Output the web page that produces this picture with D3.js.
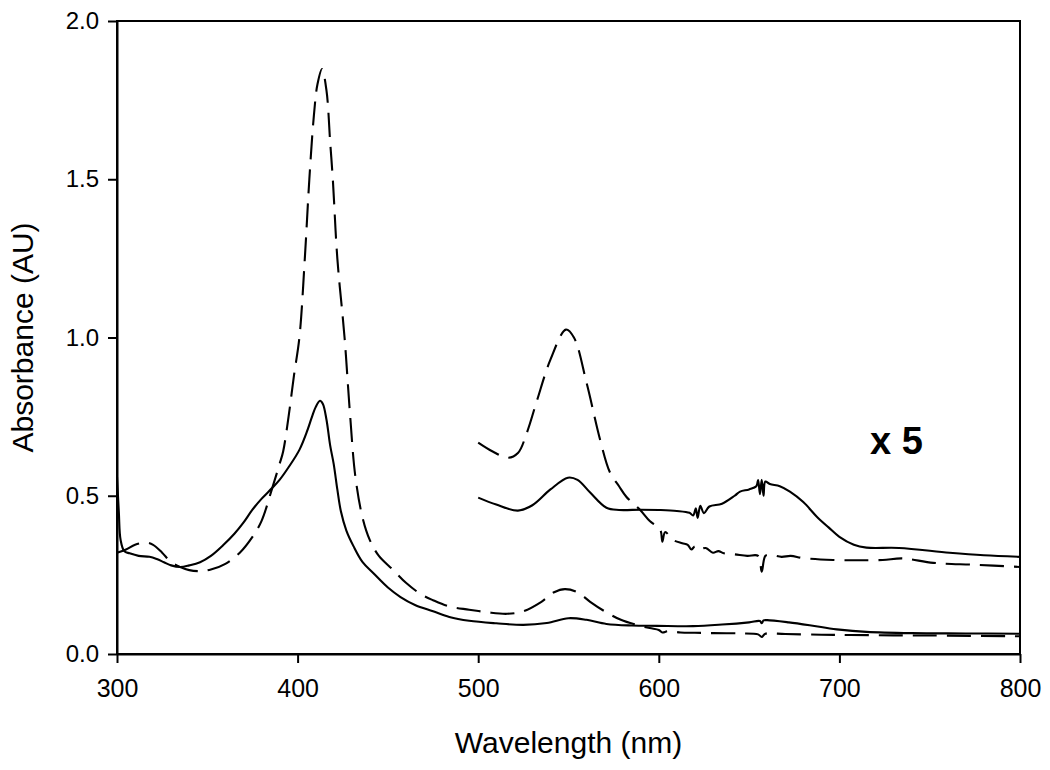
<!DOCTYPE html>
<html>
<head>
<meta charset="utf-8">
<script src="https://cdn.jsdelivr.net/npm/d3@7"></script>
<style>
  body { margin: 0; background: #fff; }
  text { font-family: "Liberation Sans", Arial, sans-serif; fill: #000; }
</style>
</head>
<body>
<svg width="1050" height="770"></svg>
<script>
// spectra: [wavelength nm, absorbance AU]
var solidFull = [
  [300, 0.56], [301, 0.45], [302, 0.36], [304, 0.325], [307, 0.318], [312, 0.31],
  [318, 0.307], [322, 0.30], [326, 0.29], [330, 0.28], [335, 0.275], [340, 0.28],
  [346, 0.29], [352, 0.31], [359, 0.345], [365, 0.38], [370, 0.415], [375, 0.456],
  [380, 0.49], [386, 0.525], [390, 0.55], [395, 0.59], [401, 0.645], [405, 0.70],
  [408, 0.75], [410, 0.78], [412.4, 0.80], [414, 0.79], [416, 0.74], [418, 0.66],
  [420, 0.60], [422, 0.52], [424, 0.45], [427, 0.39], [431, 0.34], [436, 0.29],
  [442, 0.255], [450, 0.21], [457, 0.18], [465, 0.155], [475, 0.135], [484, 0.117],
  [495, 0.105], [510, 0.097], [525, 0.092], [538, 0.098], [550, 0.113], [560, 0.108],
  [571, 0.095], [585, 0.09], [599, 0.089], [619, 0.088], [635, 0.093], [650, 0.10],
  [656, 0.104], [657, 0.097], [658, 0.106], [660, 0.107], [672, 0.10], [688, 0.087],
  [700, 0.077], [715, 0.07], [740, 0.066], [770, 0.065], [800, 0.064]
];

var dashedFull = [
  [300, 0.32], [305, 0.33], [310, 0.345], [316, 0.352], [320, 0.345], [325, 0.32],
  [330, 0.29], [335, 0.275], [340, 0.265], [346, 0.262], [352, 0.267], [360, 0.285],
  [368, 0.32], [375, 0.37], [380, 0.42], [386, 0.525], [390, 0.60], [392, 0.64],
  [395, 0.75], [398, 0.88], [401, 1.0], [404, 1.25], [406.5, 1.5], [409, 1.70],
  [411, 1.80], [413.5, 1.848], [416, 1.78], [418, 1.62], [419.5, 1.5], [422, 1.25],
  [426, 1.0], [429, 0.76], [432, 0.56], [436, 0.43], [440, 0.36], [445, 0.31],
  [453, 0.265], [460, 0.225], [468, 0.19], [475, 0.17], [484, 0.15], [495, 0.14],
  [505, 0.132], [516, 0.127], [525, 0.135], [535, 0.165], [542, 0.195], [548, 0.205],
  [555, 0.195], [562, 0.165], [570, 0.135], [579, 0.108], [587, 0.093], [595, 0.082],
  [600, 0.076], [602, 0.068], [605, 0.072], [612, 0.068], [620, 0.067], [630, 0.066],
  [645, 0.065], [655, 0.062], [657, 0.054], [659, 0.064], [670, 0.063], [690, 0.061],
  [706, 0.06], [730, 0.059], [760, 0.058], [800, 0.056]
];

// x 5 magnified visible region
var solidX5 = [
  [500, 0.494], [510, 0.472], [522, 0.453], [530, 0.47], [540, 0.52], [549.7, 0.557],
  [555, 0.55], [562, 0.51], [571, 0.462], [578, 0.455], [590, 0.456], [600, 0.455],
  [610, 0.452], [617, 0.446], [619, 0.438], [620.5, 0.46], [621.5, 0.43], [623, 0.468],
  [625, 0.445], [628, 0.466], [635, 0.475], [642, 0.50], [645, 0.513], [650, 0.52],
  [654, 0.53], [655, 0.55], [656, 0.505], [657, 0.55], [658, 0.50], [659, 0.545],
  [661.5, 0.537], [667, 0.53], [672.6, 0.513], [680, 0.48], [687.5, 0.434], [694, 0.40],
  [700, 0.37], [708, 0.345], [715, 0.336], [733, 0.335], [761, 0.32], [780, 0.312],
  [800, 0.307]
];

var dashedX5 = [
  [500, 0.668], [508, 0.64], [516.5, 0.62], [522, 0.635], [527, 0.70], [532.5, 0.80],
  [540, 0.93], [548.6, 1.025], [553, 1.0], [560, 0.857], [567.5, 0.677], [573, 0.573],
  [578, 0.53], [582, 0.497], [589.7, 0.455], [595, 0.42], [599, 0.403], [601, 0.39],
  [602, 0.355], [603.5, 0.385], [608, 0.36], [613, 0.35], [616, 0.345], [618, 0.33],
  [620, 0.34], [622, 0.33], [626, 0.335], [630, 0.32], [633, 0.325], [636, 0.318],
  [642, 0.315], [649, 0.31], [655, 0.31], [657, 0.26], [659, 0.31], [662, 0.313],
  [668, 0.307], [673, 0.31], [680, 0.303], [696.5, 0.297], [710, 0.296], [724, 0.297],
  [735, 0.302], [752, 0.288], [775, 0.282], [800, 0.275]
];

var xTicks = [300, 400, 500, 600, 700, 800];
var yTicks = [0.0, 0.5, 1.0, 1.5, 2.0];

var svg = d3.select("svg"),
    width = +svg.attr("width"),
    height = +svg.attr("height"),
    margin = {top: 21, right: 30, bottom: 116, left: 117};

var x = d3.scaleLinear()
    .domain([300, 800])
    .range([margin.left, width - margin.right]);

var y = d3.scaleLinear()
    .domain([0, 2])
    .range([height - margin.bottom, margin.top]);

var line = d3.line()
    .x(function(d) { return x(d[0]); })
    .y(function(d) { return y(d[1]); })
    .curve(d3.curveCatmullRom.alpha(0.5));

// frame
svg.append("rect")
    .attr("x", x(300))
    .attr("y", y(2))
    .attr("width", x(800) - x(300))
    .attr("height", y(0) - y(2))
    .attr("fill", "none")
    .attr("stroke", "#000")
    .attr("stroke-width", 2);

var xAxis = svg.append("g")
    .attr("transform", "translate(0," + y(0) + ")")
    .call(d3.axisBottom(x).tickValues(xTicks).tickSize(9).tickSizeOuter(0).tickPadding(16));

var yAxis = svg.append("g")
    .attr("transform", "translate(" + x(300) + ",0)")
    .call(d3.axisLeft(y).tickValues(yTicks).tickSize(9).tickSizeOuter(0).tickPadding(9)
        .tickFormat(d3.format(".1f")));

[xAxis, yAxis].forEach(function(g) {
    g.select(".domain").attr("stroke-width", 2);
    g.selectAll(".tick line").attr("stroke-width", 2);
    g.selectAll("text").attr("font-family", "Liberation Sans, Arial, sans-serif");
});
xAxis.selectAll("text").attr("font-size", 25);
yAxis.selectAll("text").attr("font-size", 24);

var series = [
    {data: solidFull, dash: null},
    {data: dashedFull, dash: "24,10"},
    {data: solidX5, dash: null},
    {data: dashedX5, dash: "24,10"}
];

svg.append("g")
    .selectAll("path")
    .data(series)
    .enter().append("path")
        .attr("d", function(d) { return line(d.data); })
        .attr("fill", "none")
        .attr("stroke", "#000")
        .attr("stroke-width", 2.1)
        .attr("stroke-linejoin", "round")
        .attr("stroke-dasharray", function(d) { return d.dash; });

svg.append("text")
    .attr("x", (x(300) + x(800)) / 2)
    .attr("y", 753)
    .attr("text-anchor", "middle")
    .attr("font-size", 30)
    .text("Wavelength (nm)");

svg.append("text")
    .attr("transform", "translate(33," + (y(0) + y(2)) / 2 + ") rotate(-90)")
    .attr("text-anchor", "middle")
    .attr("font-size", 30)
    .text("Absorbance (AU)");

svg.append("text")
    .attr("x", 870)
    .attr("y", 454)
    .attr("font-size", 38)
    .attr("font-weight", "bold")
    .text("x 5");
</script>
</body>
</html>
